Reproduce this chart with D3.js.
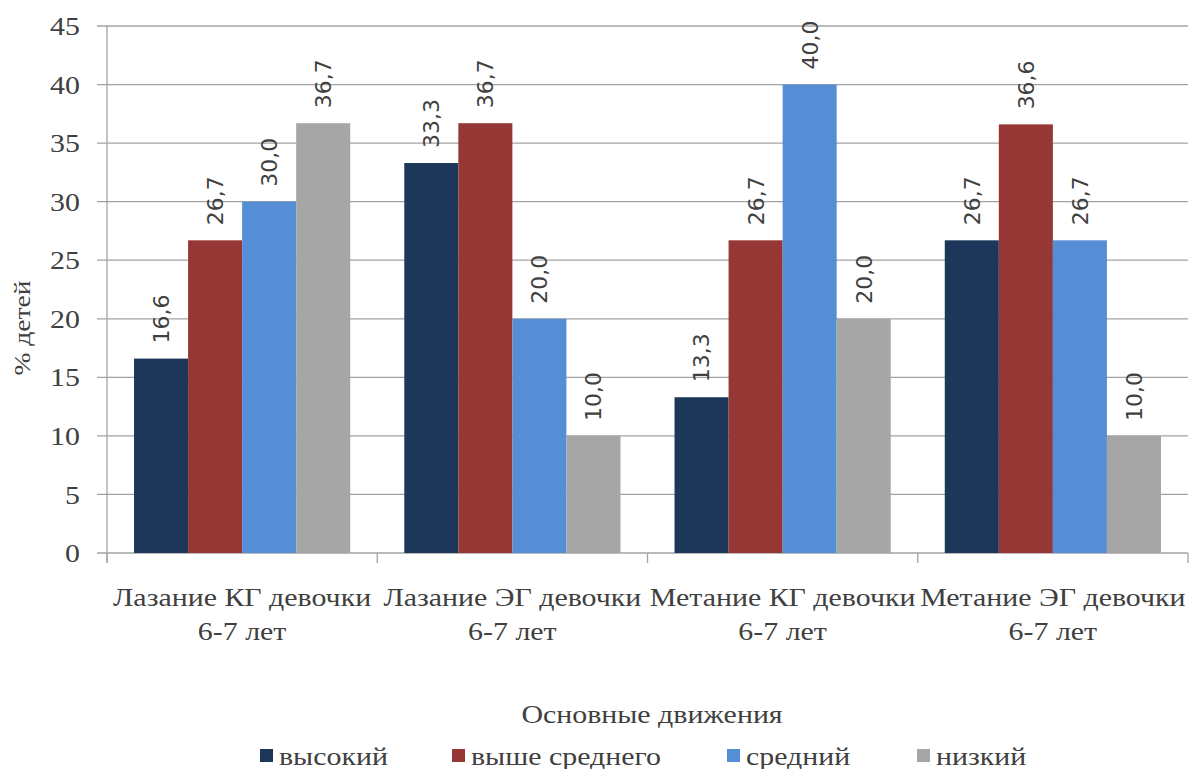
<!DOCTYPE html>
<html>
<head>
<meta charset="utf-8">
<script src="https://cdn.jsdelivr.net/npm/d3@7"></script>
<style>
  body { margin: 0; background: #fff; }
  svg { display: block; }
  .serif { font-family: "Liberation Serif", "DejaVu Serif", "Times New Roman", serif; }
  .sans { font-family: "DejaVu Sans", "Liberation Sans", sans-serif; }
</style>
</head>
<body>
<div id="chart"></div>
<script>
// categories along x (two text lines each)
var categories = [
    ["Лазание КГ девочки", "6-7 лет"],
    ["Лазание ЭГ девочки", "6-7 лет"],
    ["Метание КГ девочки", "6-7 лет"],
    ["Метание ЭГ девочки", "6-7 лет"]
];
var seriesNames = ["высокий", "выше среднего", "средний", "низкий"];
var seriesColors = ["#1c3759", "#953735", "#558ed5", "#a6a6a6"];
// values per series, one per category
var vysokiy = [16.6, 33.3, 13.3, 26.7];
var vysheSrednego = [26.7, 36.7, 26.7, 36.6];
var sredniy = [30.0, 20.0, 40.0, 26.7];
var nizkiy = [36.7, 10.0, 20.0, 10.0];
var yTicks = [0, 5, 10, 15, 20, 25, 30, 35, 40, 45];

var series = [vysokiy, vysheSrednego, sredniy, nizkiy];

var width = 1191, height = 769;
var margin = {top: 26, right: 3, bottom: 216, left: 107};
var stretch = 1.15; // the picture's text is a bit wider than the font

var svg = d3.select("#chart").append("svg")
    .attr("width", width)
    .attr("height", height);

var x0 = d3.scaleBand()
    .domain(d3.range(categories.length))
    .range([margin.left, width - margin.right])
    .paddingInner(0.2)
    .paddingOuter(0.1);

var x1 = d3.scaleBand()
    .domain(d3.range(series.length))
    .range([0, x0.bandwidth()]);

var y = d3.scaleLinear()
    .domain([0, 45])
    .range([height - margin.bottom, margin.top]);

var textColor = "#404040";
var gridColor = "#a3a3a3";

// horizontal grid lines + left tick marks
svg.append("g").selectAll("line")
    .data(yTicks)
    .enter().append("line")
    .attr("x1", margin.left - 10)
    .attr("x2", width - margin.right)
    .attr("y1", function (d) { return y(d); })
    .attr("y2", function (d) { return y(d); })
    .attr("stroke", gridColor)
    .attr("stroke-width", 1.3);

// y axis line
svg.append("line")
    .attr("x1", margin.left).attr("x2", margin.left)
    .attr("y1", y(45)).attr("y2", y(0) + 10)
    .attr("stroke", gridColor).attr("stroke-width", 1.3);

// category tick marks
var step = x0.step();
svg.append("g").selectAll("line")
    .data(d3.range(categories.length + 1))
    .enter().append("line")
    .attr("x1", function (i) { return margin.left + i * step; })
    .attr("x2", function (i) { return margin.left + i * step; })
    .attr("y1", y(0))
    .attr("y2", y(0) + 10)
    .attr("stroke", gridColor)
    .attr("stroke-width", 1.3);

// y tick labels
svg.append("g").selectAll("text")
    .data(yTicks)
    .enter().append("text")
    .attr("class", "serif")
    .attr("transform", function (d) {
        return "translate(" + (margin.left - 27) + "," + y(d) + ") scale(" + stretch + ",1)";
    })
    .attr("dy", "0.35em")
    .attr("text-anchor", "end")
    .attr("fill", textColor)
    .style("font-size", "26px")
    .text(function (d) { return d; });

// bars
var groups = svg.append("g").selectAll("g")
    .data(series)
    .enter().append("g")
    .attr("fill", function (d, i) { return seriesColors[i]; });

groups.each(function (vals, si) {
    var g = d3.select(this);
    g.selectAll("rect")
        .data(vals)
        .enter().append("rect")
        .attr("x", function (d, ci) { return x0(ci) + x1(si); })
        .attr("y", function (d) { return y(d); })
        .attr("width", x1.bandwidth())
        .attr("height", function (d) { return y(0) - y(d); });

    g.selectAll("text")
        .data(vals)
        .enter().append("text")
        .attr("class", "sans")
        .attr("transform", function (d, ci) {
            var cx = x0(ci) + x1(si) + x1.bandwidth() / 2;
            return "translate(" + cx + "," + (y(d) - 15) + ") rotate(-90)";
        })
        .attr("dy", "0.36em")
        .attr("fill", textColor)
        .style("font-size", "22px")
        .text(function (d) { return d3.format(".1f")(d).replace(".", ","); });
});

// category labels
var catLabels = svg.append("g").selectAll("text")
    .data(categories)
    .enter().append("text")
    .attr("class", "serif")
    .attr("transform", function (d, ci) {
        return "translate(" + (x0(ci) + x0.bandwidth() / 2) + ",606) scale(" + stretch + ",1)";
    })
    .attr("text-anchor", "middle")
    .attr("fill", textColor)
    .style("font-size", "26px");

catLabels.each(function (lines) {
    var t = d3.select(this);
    lines.forEach(function (line, li) {
        t.append("tspan")
            .attr("x", 0)
            .attr("y", li * 34)
            .text(line);
    });
});

// y axis title
svg.append("text")
    .attr("class", "serif")
    .attr("transform", "translate(30,328) rotate(-90) scale(" + stretch + ",1)")
    .attr("text-anchor", "middle")
    .attr("fill", textColor)
    .style("font-size", "24px")
    .text("% детей");

// x axis title
svg.append("text")
    .attr("class", "serif")
    .attr("transform", "translate(652,723) scale(" + stretch + ",1)")
    .attr("text-anchor", "middle")
    .attr("fill", textColor)
    .style("font-size", "26px")
    .text("Основные движения");

// legend
var legendX = [260, 452, 727, 917];
var legend = svg.append("g").selectAll("g")
    .data(seriesNames)
    .enter().append("g")
    .attr("transform", function (d, i) { return "translate(" + legendX[i] + ",756)"; });

legend.append("rect")
    .attr("x", 0).attr("y", -7)
    .attr("width", 13).attr("height", 13)
    .attr("fill", function (d, i) { return seriesColors[i]; });

legend.append("text")
    .attr("class", "serif")
    .attr("transform", "translate(19,0) scale(" + stretch + ",1)")
    .attr("dy", "0.33em")
    .attr("fill", textColor)
    .style("font-size", "26px")
    .text(function (d) { return d; });
</script>
</body>
</html>
